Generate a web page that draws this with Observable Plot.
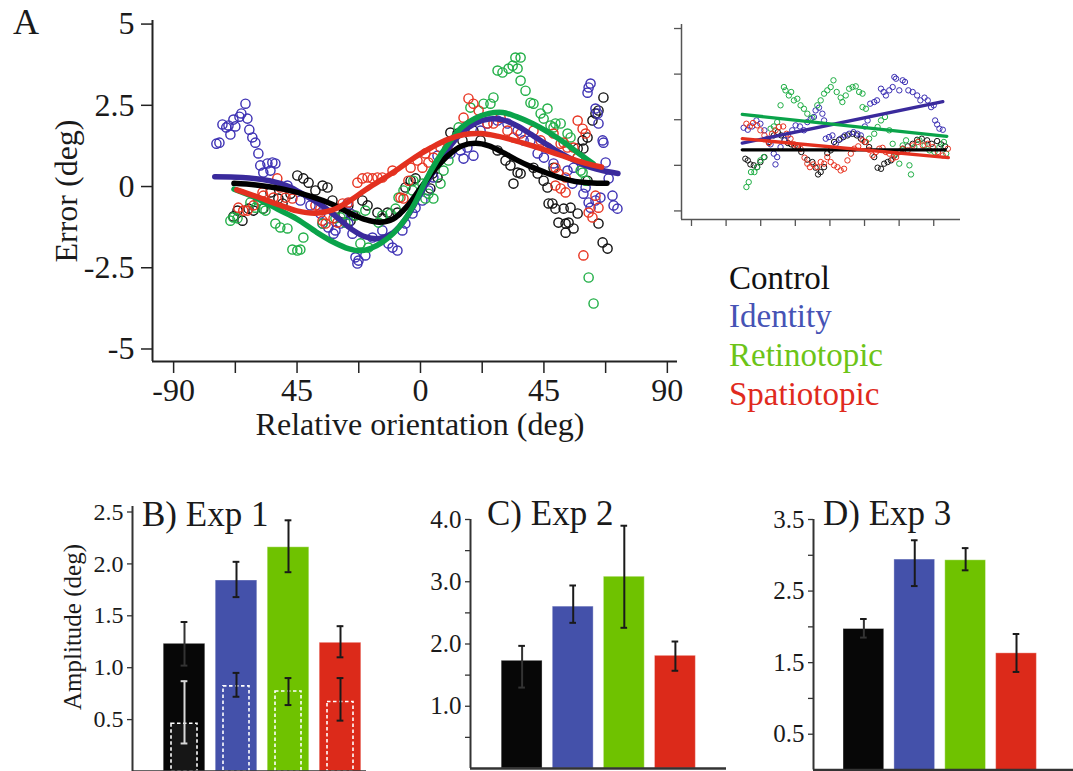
<!DOCTYPE html>
<html>
<head>
<meta charset="utf-8">
<script src="https://cdn.jsdelivr.net/npm/d3@7"></script>
<script src="https://cdn.jsdelivr.net/npm/@observablehq/plot@0.6"></script>
<style>
  html, body { margin: 0; padding: 0; background: #fff; overflow: hidden; }
  #root { position: relative; width: 1073px; height: 771px; overflow: hidden; background: #fff; font-family: "Liberation Serif", serif; color: #1a1a1a; }
  #root svg { position: absolute; overflow: visible; }
  .t { position: absolute; white-space: nowrap; line-height: 1; font-family: "Liberation Serif", serif; }
</style>
</head>
<body>
<div id="root"></div>
<script>
// ---------------- DATA ----------------
const conditions = ["Control", "Identity", "Retinotopic", "Spatiotopic"];
const scatterColors = ["#111111", "#3b2fb3", "#1fae45", "#e8321f"];
const fitColors = ["#000000", "#3a2a9c", "#0aa34a", "#e3301f"];
const legendColors = ["#111111", "#4653b5", "#6cc417", "#e02a1d"];
const barColors = ["#070707", "#4451aa", "#6fc200", "#dc2a1a"];

// Panel A: relative orientation (deg) vs error (deg)
const xTicks = [-90, -67.5, -45, -22.5, 0, 22.5, 45, 67.5, 90];
const xTickLabels = ["-90", "", "45", "", "0", "", "45", "", "90"];
const yTicks = [5, 2.5, 0, -2.5, -5];
const yTickLabels = ["5", "2.5", "0", "-2.5", "-5"];

const controlPts = [[-68.2,-0.92],[-66.7,-0.74],[-64.9,-1.05],[-62.7,-0.68],[-60.9,-0.74],[-57.3,-0.68],[-54.7,-0.18],[-51.8,-0.37],[-50.3,-0.52],[-47.4,-0.22],[-44.9,0.34],[-42.7,0.25],[-40.8,0.12],[-38.3,-0.12],[-35.7,0.03],[-33.9,-0.03],[-32.1,-0.43],[-30.3,-0.68],[-28.1,-0.83],[-26.3,-0.58],[-25.5,-1.05],[-24.4,-0.89],[-21.2,-0.43],[-19.3,-0.58],[-15.7,-0.80],[-13.9,-0.98],[-12.0,-0.80],[-8.4,-0.80],[-5.5,-0.03],[-3.6,0.18],[-1.8,0.25],[3.6,-0.06],[4.4,0.40],[6.2,0.28],[10.9,1.66],[13.5,1.63],[15.3,1.42],[19.3,1.72],[21.9,1.42],[28.1,1.11],[31.0,0.80],[32.8,0.65],[35.4,0.43],[33.9,0.09],[36.5,0.40],[41.2,0.58],[42.7,0.40],[44.9,0.18],[46.3,-0.03],[46.7,-0.52],[48.5,0.58],[48.1,-0.52],[49.2,-0.68],[52.2,-0.68],[54.7,-0.65],[57.3,-0.83],[50.3,-1.11],[52.9,-1.14],[54.0,-1.11],[52.9,-1.42],[55.8,-1.29],[57.3,1.17],[59.1,1.42],[60.9,1.51],[59.4,1.17],[62.7,2.03],[63.8,2.25],[64.9,2.34],[66.7,2.74],[60.9,0.18],[64.9,-1.14],[66.4,-1.72],[68.2,-1.91]];
const identityPts = [[-74.4,1.32],[-73.3,1.35],[-72.2,1.91],[-70.8,1.82],[-70.0,1.88],[-69.3,1.60],[-67.5,1.85],[-68.2,2.06],[-66.0,2.15],[-65.3,2.25],[-63.8,2.55],[-63.1,2.09],[-62.4,1.75],[-61.3,1.51],[-60.2,1.35],[-59.1,1.02],[-58.4,0.65],[-57.3,0.43],[-55.8,0.71],[-54.0,0.74],[-52.9,0.71],[-54.7,0.49],[-48.5,0.03],[-43.8,-0.43],[-40.1,-0.58],[-36.5,-0.83],[-33.6,-1.26],[-31.7,-1.45],[-29.2,-1.14],[-26.6,-0.52],[-25.5,-0.83],[-35.7,-1.14],[-31.0,-1.35],[-26.3,-1.14],[-24.8,-1.45],[-23.7,-2.18],[-23.0,-2.37],[-22.6,-2.28],[-20.1,-2.12],[-17.5,-1.57],[-13.9,-1.35],[-11.7,-1.75],[-10.2,-1.88],[-8.4,-1.97],[-6.6,-1.35],[-5.5,-1.14],[-2.9,-0.83],[-1.8,-0.65],[0.7,-0.43],[2.9,-0.12],[4.7,0.28],[6.2,0.95],[10.9,1.02],[14.6,1.11],[17.1,1.20],[19.3,0.95],[15.7,0.86],[21.9,1.72],[24.4,1.94],[28.1,2.03],[31.7,1.94],[35.4,1.72],[37.6,1.42],[40.1,1.42],[42.7,1.02],[45.0,0.89],[48.5,0.71],[53.6,0.49],[55.8,0.58],[55.4,0.09],[60.2,-0.03],[59.4,-0.22],[61.3,-0.49],[63.8,-0.43],[65.6,-0.34],[70.0,-0.28],[70.4,-0.58],[71.8,-0.68],[61.3,3.05],[62.0,3.17],[60.9,2.89],[63.8,2.40],[64.6,2.25],[64.9,1.94],[66.4,1.42],[66.7,1.35],[67.5,0.74],[68.6,0.25],[62.0,-0.65]];
const retinotopicPts = [[-69.3,-1.05],[-68.2,-0.95],[-66.7,-0.98],[-62.0,-0.49],[-60.2,-0.65],[-59.1,-0.43],[-57.6,-0.68],[-56.5,-0.74],[-52.9,-1.14],[-51.1,-1.26],[-48.5,-1.29],[-46.7,-1.94],[-44.9,-1.97],[-43.8,-1.94],[-42.7,-1.57],[-35.7,-1.14],[-31.0,-0.98],[-29.2,-0.95],[-27.4,-1.11],[-23.7,-0.89],[-21.9,-1.75],[-20.1,-0.74],[-19.0,-1.88],[-15.3,-1.11],[-13.9,-0.89],[-10.9,-0.83],[-9.1,-0.68],[-8.0,-0.34],[-6.2,-0.12],[-2.9,-0.12],[-2.6,0.18],[0.7,0.09],[1.8,-0.37],[2.9,-0.22],[4.7,-0.37],[7.3,0.09],[8.4,0.49],[10.2,0.80],[13.9,1.82],[18.2,2.43],[23.0,2.55],[25.5,2.55],[26.6,2.74],[28.1,3.57],[29.9,3.51],[32.1,3.63],[33.6,3.72],[34.6,3.97],[36.5,3.97],[35.4,3.63],[36.5,3.26],[38.3,2.95],[40.1,2.58],[41.2,2.55],[43.8,2.25],[46.3,2.40],[44.9,2.09],[47.4,1.88],[49.2,1.94],[51.1,1.94],[48.5,1.82],[53.6,1.63],[54.7,1.51],[57.3,0.89],[58.4,0.49],[59.1,0.43],[60.2,0.18],[61.3,-2.80],[63.1,-3.60]];
const spatiotopicPts = [[-66.4,-0.65],[-64.6,-0.74],[-63.1,-0.74],[-60.9,-0.58],[-57.6,-0.18],[-57.3,-0.28],[-53.6,-0.34],[-52.2,0.25],[-51.1,-0.03],[-49.2,-0.34],[-46.7,-0.37],[-38.3,-0.58],[-36.5,-0.68],[-35.7,-1.05],[-34.6,-1.14],[-31.7,-0.98],[-30.3,-1.11],[-28.4,-0.52],[-26.3,-0.49],[-23.0,0.12],[-21.2,0.25],[-19.3,0.28],[-17.5,0.25],[-15.7,0.28],[-13.9,0.28],[-10.2,0.49],[-7.3,-0.34],[-6.2,-0.37],[-4.4,0.18],[-3.6,0.58],[-1.1,0.80],[0.7,0.58],[1.8,1.02],[2.9,0.74],[4.7,0.89],[7.3,1.20],[9.8,1.17],[15.7,2.12],[17.5,2.71],[19.3,2.55],[21.2,2.34],[24.4,1.94],[26.6,1.94],[29.2,2.12],[31.7,1.72],[33.9,1.51],[36.5,1.63],[41.2,1.72],[43.8,1.42],[46.3,1.20],[48.5,1.63],[51.1,1.32],[52.2,1.35],[53.6,1.20],[55.8,1.20],[57.3,2.03],[59.1,1.78],[60.2,1.63],[57.3,0.89],[49.2,0.58],[50.3,0.40],[52.9,0.28],[49.2,0.03],[51.1,-0.06],[52.9,-0.18],[63.8,-0.28],[64.9,-0.65],[61.3,-0.80],[62.7,-0.95],[59.4,-2.12]];

const controlFit = [[-68,0.10],[-60,0.05],[-50,-0.08],[-40,-0.30],[-32,-0.55],[-25,-0.85],[-20,-1.02],[-15,-1.10],[-10,-1.00],[-5,-0.62],[0,-0.05],[5,0.50],[10,0.95],[15,1.25],[20,1.33],[25,1.25],[30,1.05],[35,0.82],[40,0.62],[45,0.45],[50,0.30],[57,0.15],[68,0.10]];
const identityFit = [[-75,0.30],[-65,0.28],[-55,0.18],[-48,0.00],[-42,-0.28],[-36,-0.58],[-30,-0.98],[-25,-1.32],[-20,-1.55],[-15,-1.60],[-10,-1.42],[-5,-0.95],[0,-0.22],[5,0.50],[10,1.15],[15,1.65],[20,1.95],[25,2.08],[30,2.05],[35,1.88],[40,1.62],[45,1.35],[50,1.08],[55,0.85],[60,0.65],[66,0.50],[72,0.40]];
const retinotopicFit = [[-68,-0.08],[-60,-0.35],[-52,-0.70],[-45,-1.00],[-38,-1.40],[-32,-1.70],[-26,-1.92],[-22,-1.98],[-18,-1.90],[-14,-1.72],[-10,-1.45],[-6,-1.05],[-2,-0.50],[2,0.20],[6,0.80],[10,1.30],[15,1.82],[20,2.10],[25,2.25],[30,2.28],[35,2.15],[41,1.93],[47,1.65],[53,1.32],[58,1.00],[63,0.70]];
const spatiotopicFit = [[-67,-0.10],[-60,-0.30],[-52,-0.55],[-45,-0.75],[-38,-0.82],[-32,-0.72],[-26,-0.45],[-20,-0.10],[-14,0.22],[-8,0.55],[-2,0.90],[4,1.20],[10,1.45],[16,1.60],[22,1.63],[28,1.55],[35,1.40],[42,1.22],[48,1.05],[55,0.85],[60,0.72],[66,0.60]];

// Inset (unlabelled axes)
const insetXTicks = [-90, -67.5, -45, -22.5, 0, 22.5, 45, 67.5];
const insetYTicks = [5, 2.5, 0, -2.5, -5];
const insetControlPts = [[-55.0,-2.14],[-53.4,-2.23],[-51.7,-2.45],[-49.5,-2.50],[-47.3,-2.60],[-45.2,-2.32],[-42.6,-2.05],[-39.7,-1.22],[-36.5,-0.86],[-33.9,-0.68],[-31.7,-0.86],[-29.5,-1.13],[-27.3,-1.28],[-25.2,-1.35],[-23.0,-1.46],[-20.8,-1.50],[-18.6,-1.77],[-14.7,-2.19],[-11.4,-2.32],[-9.3,-2.63],[-7.7,-3.00],[-6.0,-2.87],[-3.8,-2.60],[-1.7,-1.83],[0.5,-1.68],[2.7,-1.22],[6.0,-1.10],[8.8,-0.95],[11.4,-0.86],[14.7,-0.77],[17.5,-0.86],[20.1,-1.04],[22.7,-1.22],[25.5,-1.50],[28.8,-2.05],[31.0,-2.63],[33.2,-2.69],[35.3,-2.41],[37.5,-2.32],[39.7,-2.23],[41.9,-1.96],[44.5,-1.77],[47.3,-1.59],[50.6,-1.46],[53.8,-1.32],[56.7,-1.10],[59.7,-1.04],[63.2,-1.13],[66.2,-1.32],[69.7,-1.17],[72.3,-1.35],[74.9,-1.46]];
const insetIdentityPts = [[-56.1,-0.44],[-53.4,-0.55],[-50.6,-0.37],[-47.8,-0.04],[-45.2,-0.22],[-42.6,-0.58],[-40.4,-1.04],[-38.6,-1.35],[-36.5,-1.86],[-34.3,-2.05],[-35.4,-2.45],[-32.1,-1.50],[-29.5,-1.13],[-27.3,-0.86],[-24.5,-0.58],[-22.3,-0.31],[-19.5,-0.37],[-16.9,-0.58],[-14.7,-0.13],[-12.5,0.05],[-10.4,0.15],[-9.3,0.51],[-7.1,0.66],[-4.9,0.33],[-3.8,-0.04],[-2.7,-1.04],[-0.6,-0.95],[1.6,-0.86],[3.8,-1.32],[7.0,-1.04],[9.7,-0.86],[12.5,-0.77],[15.3,-0.68],[17.9,-0.77],[20.1,-0.86],[22.7,-0.37],[24.5,-0.04],[26.2,0.88],[28.8,0.97],[30.6,1.06],[33.2,1.70],[34.9,1.52],[36.4,1.33],[38.6,1.61],[40.8,1.79],[41.9,2.34],[43.0,2.25],[45.1,1.61],[47.3,2.16],[48.8,2.07],[51.0,1.61],[53.8,1.52],[56.7,1.33],[58.8,1.06],[61.5,1.21],[63.6,1.06],[65.8,0.69],[67.5,0.79],[68.4,-0.04],[69.7,-0.26],[71.2,-0.49],[73.4,-0.55]];
const insetRetinotopicPts = [[-54.3,-3.69],[-52.8,-3.42],[-51.3,-2.87],[-49.1,-2.87],[-47.3,-2.60],[-45.2,-2.23],[-43.0,-2.05],[-38.6,-0.49],[-36.5,-0.37],[-34.3,-0.13],[-32.1,0.79],[-29.9,1.79],[-28.9,1.61],[-26.7,1.33],[-25.2,1.52],[-23.4,1.06],[-21.2,1.15],[-19.1,0.79],[-16.9,0.60],[-14.7,0.33],[-11.4,0.11],[-8.2,0.79],[-6.0,1.06],[-3.8,1.43],[-1.7,1.61],[0.5,1.79],[2.3,2.16],[4.4,1.52],[7.0,1.21],[8.1,0.97],[10.3,1.33],[12.5,1.70],[14.7,1.79],[16.8,1.83],[19.0,1.52],[21.2,1.43],[21.2,0.69],[23.4,0.60],[25.5,-1.04],[28.8,-0.77],[31.0,-0.40],[33.2,-0.04],[35.8,0.15],[38.6,-0.58],[40.8,-1.32],[43.0,-1.86],[45.1,-2.41],[47.3,-1.41],[49.5,-1.13],[51.7,-2.50],[52.7,-3.00],[54.9,-1.50],[58.2,-1.13],[61.5,-1.41],[64.7,-1.68],[68.0,-1.77],[71.2,-1.50],[74.1,-1.22],[75.6,-1.86]];
const insetSpatiotopicPts = [[-54.3,-0.22],[-52.1,-0.37],[-50.0,-0.18],[-47.3,-0.31],[-45.2,-0.58],[-42.6,-0.86],[-39.7,-1.28],[-37.6,-0.77],[-35.4,-0.58],[-33.2,-0.40],[-30.4,-0.37],[-28.2,-0.77],[-25.6,-1.04],[-23.4,-1.35],[-21.2,-1.46],[-19.1,-1.59],[-16.5,-2.08],[-14.7,-2.41],[-13.0,-2.60],[-10.8,-2.45],[-8.2,-2.60],[-6.0,-2.32],[-3.8,-2.41],[-1.7,-2.05],[0.5,-2.32],[2.7,-2.50],[4.9,-2.60],[7.0,-2.78],[9.2,-2.69],[11.4,-2.23],[13.6,-1.86],[15.8,-1.59],[18.4,-1.46],[21.2,-1.13],[23.4,-1.22],[25.5,-1.65],[27.7,-1.96],[29.9,-1.77],[32.1,-1.59],[34.2,-1.54],[36.4,-1.77],[38.6,-1.86],[40.8,-2.14],[43.0,-2.05],[45.1,-1.77],[47.3,-1.59],[50.6,-1.68],[53.8,-1.41],[57.1,-1.22],[60.4,-1.41],[63.6,-1.32],[66.9,-1.50],[70.2,-1.77],[73.4,-1.96],[76.7,-1.59]];
const insetControlFit = [[-57,-1.65],[75,-1.65]];
const insetIdentityFit = [[-57,-1.28],[73.4,0.99]];
const insetRetinotopicFit = [[-57,0.29],[76,-0.91]];
const insetSpatiotopicFit = [[-57,-1.04],[77,-2.08]];

// Panels B-D: amplitude (deg)
const exp1Mean = [1.23, 1.84, 2.16, 1.24];
const exp1Lo = [1.02, 1.68, 1.92, 1.10];
const exp1Hi = [1.44, 2.02, 2.42, 1.40];
const exp1InnerMean = [0.46, 0.82, 0.77, 0.67];
const exp1InnerLo = [0.27, 0.72, 0.64, 0.49];
const exp1InnerHi = [0.87, 0.95, 0.90, 0.90];
const exp1Ticks = [0.5, 1.0, 1.5, 2.0, 2.5];

const exp2Mean = [1.73, 2.60, 3.08, 1.81];
const exp2Lo = [1.30, 2.34, 2.26, 1.57];
const exp2Hi = [1.97, 2.94, 3.90, 2.04];
const exp2Ticks = [1.0, 2.0, 3.0, 4.0];
const exp2MinorTicks = [0.5, 1.5, 2.5, 3.5];

const exp3Mean = [1.97, 2.94, 2.93, 1.63];
const exp3Lo = [1.85, 2.57, 2.79, 1.37];
const exp3Hi = [2.11, 3.21, 3.10, 1.90];
const exp3Ticks = [0.5, 1.5, 2.5, 3.5];
const exp3MinorTicks = [1.0, 2.0, 3.0];

// ---------------- DRAW ----------------
const root = document.getElementById("root");
const FONT = "Liberation Serif";
function place(node, left, top) {
  node.style.left = left + "px";
  node.style.top = top + "px";
  root.appendChild(node);
}
function addText(txt, left, top, size, color, extra) {
  const d = document.createElement("div");
  d.className = "t";
  d.textContent = txt;
  d.style.left = left + "px";
  d.style.top = top + "px";
  d.style.fontSize = size + "px";
  d.style.color = color || "#1a1a1a";
  if (extra) Object.assign(d.style, extra);
  root.appendChild(d);
}

const ptsList = [controlPts, identityPts, retinotopicPts, spatiotopicPts];
const fitList = [controlFit, identityFit, retinotopicFit, spatiotopicFit];
const fitOrder = [1, 0, 2, 3];

// Panel A
const axDom = [-97.7, 93.7], ayDom = [-5.385, 5.11];
const xLab = new Map(xTicks.map((t, i) => [t, xTickLabels[i]]));
const yLab = new Map(yTicks.map((t, i) => [t, yTickLabels[i]]));
const mainPlot = Plot.plot({
  width: 690, height: 450,
  marginLeft: 152, marginRight: 13, marginTop: 20, marginBottom: 89,
  x: {domain: axDom}, y: {domain: ayDom},
  style: {fontFamily: FONT, fontSize: "32px", color: "#1a1a1a", background: "transparent"},
  marks: [
    Plot.axisX({ticks: xTicks, tickFormat: d => xLab.get(d) ?? "", tickSize: 12, tickPadding: 5, label: null, stroke: "#222", strokeWidth: 1.5, fontSize: 32}),
    Plot.axisY({ticks: yTicks, tickFormat: d => yLab.get(d) ?? "", tickSize: 11, tickPadding: 7, label: null, stroke: "#222", strokeWidth: 1.5, fontSize: 32}),
    Plot.ruleX([axDom[0]], {stroke: "#222", strokeWidth: 2}),
    Plot.ruleY([ayDom[0]], {stroke: "#222", strokeWidth: 2}),
    ...ptsList.map((pts, i) => Plot.dot(pts, {x: d => d[0], y: d => d[1], r: 4.6, stroke: scatterColors[i], strokeWidth: 1.4, fill: "none"})),
    ...fitOrder.map(i => Plot.line(fitList[i], {x: d => d[0], y: d => d[1], stroke: fitColors[i], strokeWidth: 5.5, curve: "catmull-rom", strokeLinecap: "round"}))
  ]
});
place(mainPlot, 0, 0);

// Inset
const insetPts = [insetControlPts, insetIdentityPts, insetRetinotopicPts, insetSpatiotopicPts];
const insetFits = [insetControlFit, insetIdentityFit, insetRetinotopicFit, insetSpatiotopicFit];
const ixDom = [-96.5, 84.9], iyDom = [-5.47, 5.22];
const inset = Plot.plot({
  width: 310, height: 240,
  marginLeft: 21, marginRight: 10, marginTop: 24, marginBottom: 21,
  x: {domain: ixDom}, y: {domain: iyDom},
  style: {background: "transparent"},
  marks: [
    Plot.axisX({ticks: insetXTicks, tickFormat: () => "", tickSize: 7, label: null, stroke: "#555", strokeWidth: 1.3}),
    Plot.axisY({ticks: insetYTicks, tickFormat: () => "", tickSize: 7, label: null, stroke: "#555", strokeWidth: 1.3}),
    Plot.ruleX([ixDom[0]], {stroke: "#555", strokeWidth: 1.5}),
    Plot.ruleY([iyDom[0]], {stroke: "#555", strokeWidth: 1.5}),
    ...insetPts.map((pts, i) => Plot.dot(pts, {x: d => d[0], y: d => d[1], r: 2.7, stroke: scatterColors[i], strokeWidth: 1, fill: "none"})),
    ...fitOrder.map(i => Plot.line(insetFits[i], {x: d => d[0], y: d => d[1], stroke: fitColors[i], strokeWidth: 3.3}))
  ]
});
place(inset, 660, 0);

// Labels for panel A
addText("A", 13, 4, 36);
addText("Error (deg)", 66, 191, 32, "#1a1a1a", {transform: "translate(-50%,-50%) rotate(-90deg)"});
addText("Relative orientation (deg)", 420, 408, 32, "#1a1a1a", {transform: "translateX(-50%)"});
const legendTops = [262, 300, 339, 378];
conditions.forEach((c, i) => addText(c, 729, legendTops[i], 33, legendColors[i]));

// Bar panels
function makeTable(mean, lo, hi) {
  return conditions.map((c, i) => ({i, c, v: mean[i], lo: lo[i], hi: hi[i], fill: barColors[i]}));
}
function barPanel(opts) {
  const {mean, lo, hi, ticks, minor, xDom, yDom, width, height, mL, mR, mT, mB, fs, inner} = opts;
  const T = makeTable(mean, lo, hi);
  const cap = 0.065;
  const fmt = d3.format(".1f");
  const marks = [
    Plot.rect(T, {x1: d => d.i - 0.4, x2: d => d.i + 0.4, y1: 0, y2: "v", fill: "fill", stroke: "#ffffff", strokeOpacity: 0.35, strokeWidth: 1}),
  ];
  if (inner) {
    const TI = conditions.map((c, i) => ({i, v: inner.mean[i], lo: inner.lo[i], hi: inner.hi[i]}));
    marks.push(
      Plot.rect(TI, {x1: d => d.i - 0.25, x2: d => d.i + 0.25, y1: 0, y2: "v", fill: d => d.i === 0 ? "#161616" : "none", stroke: "#ffffff", strokeWidth: 1.6, strokeDasharray: "3.5,2.5"}),
      Plot.ruleX(TI, {x: "i", y1: "lo", y2: "hi", stroke: d => d.i === 0 ? "#d8d8d8" : "#1a1a1a", strokeWidth: 2}),
      Plot.ruleY(TI, {y: "lo", x1: d => d.i - cap, x2: d => d.i + cap, stroke: d => d.i === 0 ? "#d8d8d8" : "#1a1a1a", strokeWidth: 2}),
      Plot.ruleY(TI, {y: "hi", x1: d => d.i - cap, x2: d => d.i + cap, stroke: d => d.i === 0 ? "#d8d8d8" : "#1a1a1a", strokeWidth: 2})
    );
  }
  marks.push(
    Plot.ruleX(T, {x: "i", y1: "lo", y2: "hi", stroke: d => d.i === 0 ? "#333" : "#1a1a1a", strokeWidth: 2}),
    Plot.ruleY(T, {y: "lo", x1: d => d.i - cap, x2: d => d.i + cap, stroke: d => d.i === 0 ? "#333" : "#1a1a1a", strokeWidth: 2}),
    Plot.ruleY(T, {y: "hi", x1: d => d.i - cap, x2: d => d.i + cap, stroke: "#1a1a1a", strokeWidth: 2}),
    Plot.axisY({ticks, tickFormat: fmt, tickSize: 5, tickPadding: 4, label: null, stroke: "#333", strokeWidth: 1.3, fontSize: fs}),
    Plot.ruleX([xDom[0]], {stroke: "#333", strokeWidth: 2}),
    Plot.ruleY([0], {stroke: "#333", strokeWidth: 2.5})
  );
  if (minor) marks.push(Plot.axisY({ticks: minor, tickFormat: () => "", tickSize: 5, label: null, stroke: "#333", strokeWidth: 1.3}));
  return Plot.plot({
    width, height, marginLeft: mL, marginRight: mR, marginTop: mT, marginBottom: mB,
    x: {domain: xDom, axis: null}, y: {domain: yDom},
    color: {type: "identity"},
    style: {fontFamily: FONT, color: "#1a1a1a", background: "transparent"},
    marks
  });
}

const pB = barPanel({mean: exp1Mean, lo: exp1Lo, hi: exp1Hi, ticks: exp1Ticks, xDom: [-1, 3.5], yDom: [0, 2.553],
  width: 380, height: 291, mL: 132, mR: 14, mT: 26, mB: 0, fs: 24,
  inner: {mean: exp1InnerMean, lo: exp1InnerLo, hi: exp1InnerHi}});
place(pB, 0, 480);

const pC = barPanel({mean: exp2Mean, lo: exp2Lo, hi: exp2Hi, ticks: exp2Ticks, minor: exp2MinorTicks, xDom: [-1.01, 4.0], yDom: [0, 4.0],
  width: 326, height: 291, mL: 70, mR: 0, mT: 39, mB: 3, fs: 25});
place(pC, 400, 480);

const pD = barPanel({mean: exp3Mean, lo: exp3Lo, hi: exp3Hi, ticks: exp3Ticks, minor: exp3MinorTicks, xDom: [-0.99, 4.12], yDom: [0, 3.5],
  width: 333, height: 291, mL: 73, mR: 0, mT: 39, mB: 1.5, fs: 25});
place(pD, 740, 480);

addText("B) Exp 1", 142, 497, 35);
addText("C) Exp 2", 487, 496, 35);
addText("D) Exp 3", 823, 496, 35);
addText("Amplitude (deg)", 72, 627, 25, "#1a1a1a", {transform: "translate(-50%,-50%) rotate(-90deg)"});
</script>
</body>
</html>
